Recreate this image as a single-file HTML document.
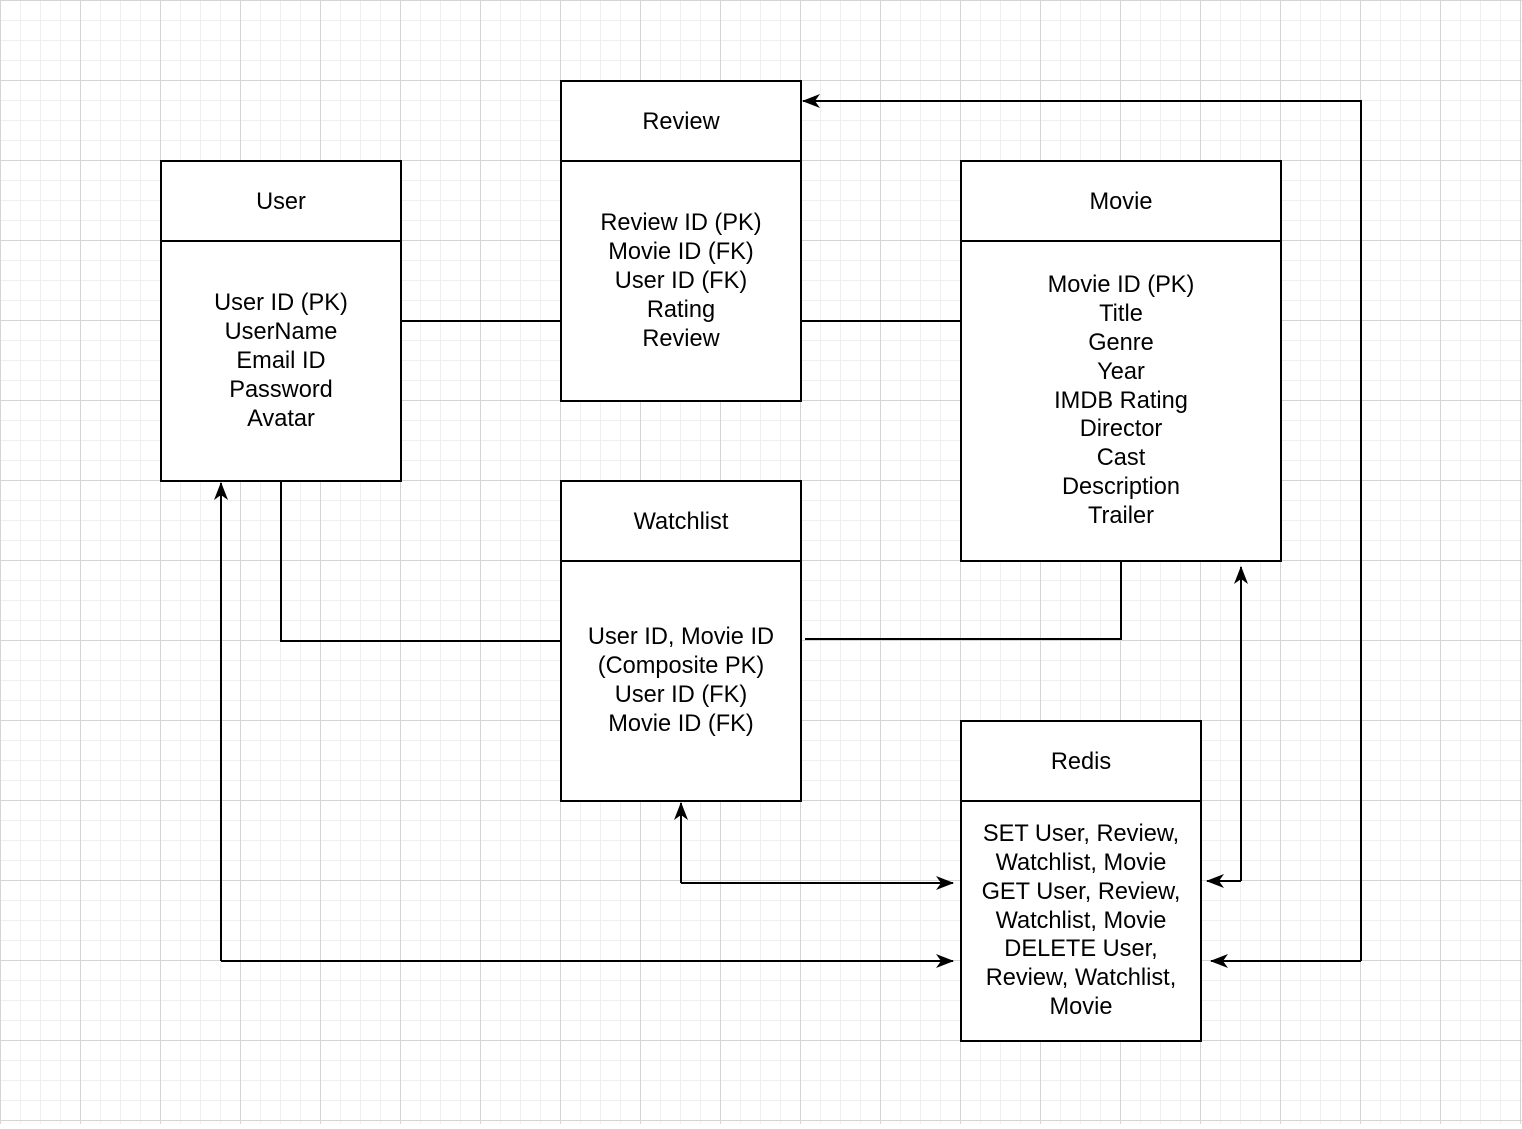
<!DOCTYPE html>
<html><head><style>
body{margin:0;width:1522px;height:1124px;overflow:hidden;background:#fff}
svg text{font-family:"Liberation Sans",Arial,sans-serif;font-size:23.6px;fill:#000;text-anchor:middle}
</style></head><body>
<svg width="1522" height="1124" xmlns="http://www.w3.org/2000/svg">
<defs>
<pattern id="g" width="20" height="20" patternUnits="userSpaceOnUse"><path d="M0 0.5H20M0.5 0V20" stroke="#efefef" stroke-width="1" fill="none"/></pattern>
<pattern id="G" width="80" height="80" patternUnits="userSpaceOnUse"><rect width="80" height="80" fill="url(#g)"/><path d="M0 0.5H80M0.5 0V80" stroke="#d4d4d4" stroke-width="1" fill="none"/></pattern>
<marker id="a" markerWidth="18" markerHeight="14" refX="17" refY="7" orient="auto" markerUnits="userSpaceOnUse"><path d="M0 0L18 7L0 14L5 7Z" fill="#000"/></marker>
</defs>
<rect width="1522" height="1124" fill="url(#G)"/>
<g fill="none" stroke="#000" stroke-width="2">
<path d="M401 321H561M801 321H961"/>
<path d="M281 481V641H561"/>
<path d="M805 639H1121V561"/>
<path d="M681 883H953" marker-end="url(#a)"/>
<path d="M681 883V803" marker-end="url(#a)"/>
<path d="M221 961H953" marker-end="url(#a)"/>
<path d="M221 961V483" marker-end="url(#a)"/>
<path d="M1241 881H1207" marker-end="url(#a)"/>
<path d="M1241 881V567" marker-end="url(#a)"/>
<path d="M1361 961H1211" marker-end="url(#a)"/>
<path d="M1361 961V101H803" marker-end="url(#a)"/>
<g fill="#fff">
<rect x="161" y="161" width="240" height="320"/><path d="M161 241H401"/>
<rect x="561" y="81" width="240" height="320"/><path d="M561 161H801"/>
<rect x="961" y="161" width="320" height="400"/><path d="M961 241H1281"/>
<rect x="561" y="481" width="240" height="320"/><path d="M561 561H801"/>
<rect x="961" y="721" width="240" height="320"/><path d="M961 801H1201"/>
</g></g>
<text x="281" y="209">User</text>
<text x="281" y="310">User ID (PK)</text><text x="281" y="339">UserName</text><text x="281" y="368">Email ID</text><text x="281" y="397">Password</text><text x="281" y="426">Avatar</text>
<text x="681" y="129">Review</text>
<text x="681" y="230">Review ID (PK)</text><text x="681" y="259">Movie ID (FK)</text><text x="681" y="288">User ID (FK)</text><text x="681" y="317">Rating</text><text x="681" y="346">Review</text>
<text x="1121" y="209">Movie</text>
<text x="1121" y="292">Movie ID (PK)</text><text x="1121" y="321">Title</text><text x="1121" y="350">Genre</text><text x="1121" y="379">Year</text><text x="1121" y="408">IMDB Rating</text><text x="1121" y="436">Director</text><text x="1121" y="465">Cast</text><text x="1121" y="494">Description</text><text x="1121" y="523">Trailer</text>
<text x="681" y="529">Watchlist</text>
<text x="681" y="644">User ID, Movie ID</text><text x="681" y="673">(Composite PK)</text><text x="681" y="702">User ID (FK)</text><text x="681" y="731">Movie ID (FK)</text>
<text x="1081" y="769">Redis</text>
<text x="1081" y="841">SET User, Review,</text><text x="1081" y="870">Watchlist, Movie</text><text x="1081" y="899">GET User, Review,</text><text x="1081" y="928">Watchlist, Movie</text><text x="1081" y="956">DELETE User,</text><text x="1081" y="985">Review, Watchlist,</text><text x="1081" y="1014">Movie</text>
</svg>
</body></html>
